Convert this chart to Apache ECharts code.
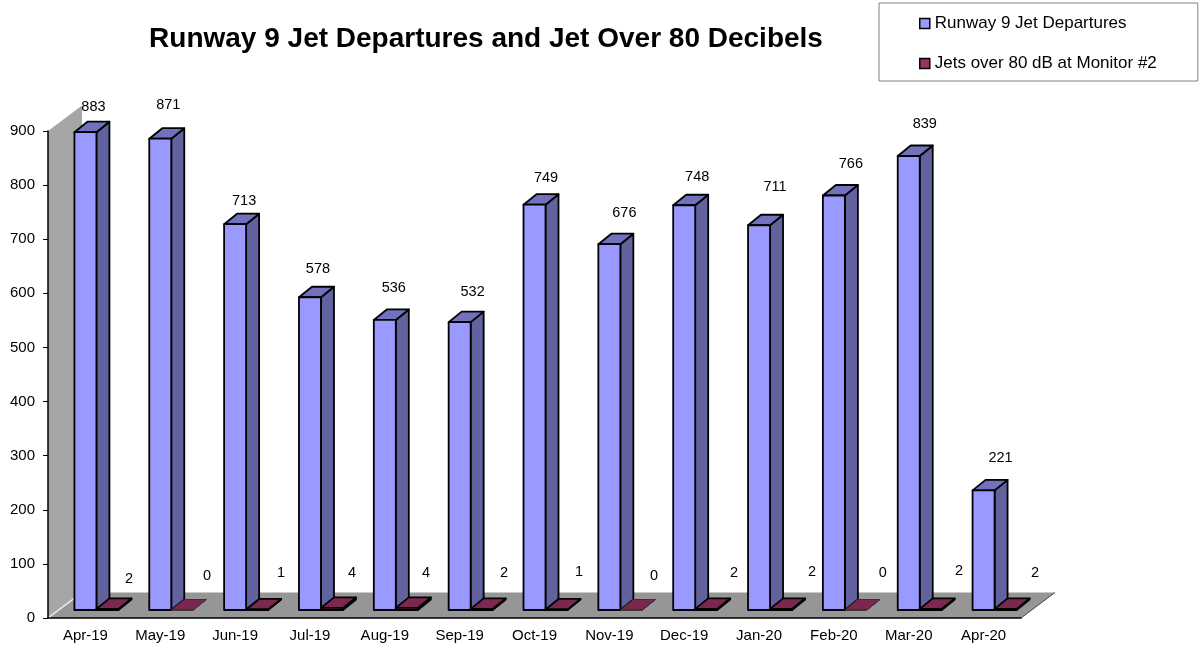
<!DOCTYPE html>
<html>
<head>
<meta charset="utf-8">
<title>Runway 9 Jet Departures</title>
<script src="https://cdn.jsdelivr.net/npm/echarts@6/dist/echarts.min.js"></script>
<style>
    html, body { margin: 0; padding: 0; background: #fff; }
    #chart { width: 1199px; height: 648px; }
</style>
</head>
<body>
<div id="chart"></div>
<script>
const months = ['Apr-19', 'May-19', 'Jun-19', 'Jul-19', 'Aug-19', 'Sep-19', 'Oct-19', 'Nov-19', 'Dec-19', 'Jan-20', 'Feb-20', 'Mar-20', 'Apr-20'];
const departures = [883, 871, 713, 578, 536, 532, 749, 676, 748, 711, 766, 839, 221];
const over80 = [2, 0, 1, 4, 4, 2, 1, 0, 2, 2, 0, 2, 2];

// the labels sit by hand in the original, so each one gets its own nudge
const departureLabelDx = [8, 8, 9, 8, 9, 13, 11.5, 15, 13, 16, 17, 16, 17];
const departureLabelLift = [25, 34, 23, 28.5, 31.5, 30.5, 27, 31.5, 28, 38, 32, 32, 32];
const over80LabelDx = [43.6, 46.7, 45.9, 42, 41.2, 44.3, 44.5, 44.6, 49.8, 52.9, 49, 50.2, 51.4];
const over80LabelLift = [30, 34, 36.5, 35, 35, 36, 37.5, 34, 36, 37, 37, 38, 36];

const FONT = '"Liberation Sans", Arial, sans-serif';
const BAR_W = 22;
const BAR_DX = 13;
const BAR_DY = 10.5;
const BASE_LIFT = 8;
const FLOOR_DX = 34;
const FLOOR_DY = 25.5;

function face(points, fill, stroke, width) {
    return { type: 'polygon', shape: { points: points }, style: { fill: fill, stroke: stroke, lineWidth: width, lineJoin: 'round' } };
}

// one pseudo 3D column: side, top and front faces plus its number
function columnRenderer(opts) {
    return function (params, api) {
        const i = api.value(0);
        const v = api.value(1);
        const center = api.coord([i, 0])[0];
        const zero = api.coord([i, 0])[1];
        const base = zero - BASE_LIFT;
        const top = api.coord([i, v])[1] - BASE_LIFT;
        const x0 = center - BAR_W / 2 + opts.shift;
        const x1 = x0 + BAR_W;
        const stroke = v === 0 ? '#333' : '#000';
        const width = v === 0 ? 1 : 1.8;
        return {
            type: 'group',
            children: [
                face([[x1, top], [x1 + BAR_DX, top - BAR_DY], [x1 + BAR_DX, base - BAR_DY], [x1, base]], opts.side, stroke, width),
                face([[x0, top], [x0 + BAR_DX, top - BAR_DY], [x1 + BAR_DX, top - BAR_DY], [x1, top]], opts.top, stroke, width),
                face([[x0, top], [x1, top], [x1, base], [x0, base]], opts.front, stroke, width),
                {
                    type: 'text',
                    style: {
                        text: String(v),
                        x: center + opts.labelDx[i],
                        y: top - opts.labelLift[i],
                        align: 'center',
                        verticalAlign: 'middle',
                        fontSize: 14.5,
                        fontFamily: FONT,
                        fill: '#000'
                    }
                }
            ]
        };
    };
}

// gray left wall and floor behind the columns
function renderRoom(params) {
    const cs = params.coordSys;
    const left = cs.x;
    const right = cs.x + cs.width;
    const topY = cs.y;
    const bottom = cs.y + cs.height;
    const backX = left + FLOOR_DX;
    const backY = bottom - FLOOR_DY;
    return {
        type: 'group',
        children: [
            face([[left, topY], [backX, topY - FLOOR_DY], [backX, backY], [left, bottom]], '#a6a6a6', null, 0),
            face([[left, bottom], [backX, backY], [right + FLOOR_DX, backY], [right, bottom]], '#969696', null, 0),
            { type: 'line', shape: { x1: right, y1: bottom, x2: right + FLOOR_DX, y2: backY }, style: { stroke: '#444', lineWidth: 1 } },
            { type: 'line', shape: { x1: left, y1: bottom, x2: backX, y2: backY }, style: { stroke: '#f2f2f2', lineWidth: 1.5 } }
        ]
    };
}

const chart = echarts.init(document.getElementById('chart'), null, { renderer: 'canvas' });

chart.setOption({
    animation: false,
    backgroundColor: '#fff',
    title: {
        text: 'Runway 9 Jet Departures and Jet Over 80 Decibels',
        left: 481,
        top: 20,
        textAlign: 'center',
        textStyle: { fontFamily: FONT, fontSize: 28, fontWeight: 'bold', color: '#000' }
    },
    legend: {
        left: 879,
        top: 3,
        orient: 'vertical',
        align: 'left',
        padding: [12, 41, 9, 40],
        itemGap: 23,
        itemWidth: 10,
        itemHeight: 10,
        borderColor: '#808080',
        borderWidth: 1,
        icon: 'rect',
        itemStyle: { borderColor: '#000', borderWidth: 1.5 },
        textStyle: { fontFamily: FONT, fontSize: 17, color: '#000' },
        data: ['Runway 9 Jet Departures', 'Jets over 80 dB at Monitor #2']
    },
    grid: { left: 48, top: 131, width: 973, height: 487, containLabel: false },
    xAxis: {
        type: 'category',
        data: months,
        z: 5,
        axisLine: { lineStyle: { color: '#000', width: 1.5 } },
        axisTick: { length: 5, lineStyle: { color: '#000' } },
        axisLabel: { interval: 0, margin: 10, fontFamily: FONT, fontSize: 15, color: '#000' },
        splitLine: { show: false }
    },
    yAxis: {
        type: 'value',
        min: 0,
        max: 900,
        interval: 100,
        z: 5,
        axisLine: { show: true, lineStyle: { color: '#000', width: 1.5 } },
        axisTick: { show: true, length: 5, lineStyle: { color: '#000' } },
        axisLabel: { margin: 13, fontFamily: FONT, fontSize: 15, color: '#000' },
        splitLine: { show: false }
    },
    series: [
        {
            type: 'custom',
            name: 'room',
            silent: true,
            z: 1,
            renderItem: renderRoom,
            data: [[0, 0]],
            encode: { x: 0, y: 1 }
        },
        {
            type: 'custom',
            name: 'Runway 9 Jet Departures',
            z: 2,
            itemStyle: { color: '#9999ff' },
            renderItem: columnRenderer({
                shift: 0, front: '#9999ff', side: '#62629f', top: '#7171bd',
                labelDx: departureLabelDx, labelLift: departureLabelLift
            }),
            data: departures.map((v, i) => [i, v]),
            encode: { x: 0, y: 1 }
        },
        {
            type: 'custom',
            name: 'Jets over 80 dB at Monitor #2',
            z: 3,
            itemStyle: { color: '#993366' },
            renderItem: columnRenderer({
                shift: BAR_W, front: '#993366', side: '#662244', top: '#7a2850',
                labelDx: over80LabelDx, labelLift: over80LabelLift
            }),
            data: over80.map((v, i) => [i, v]),
            encode: { x: 0, y: 1 }
        }
    ]
});
</script>
</body>
</html>
